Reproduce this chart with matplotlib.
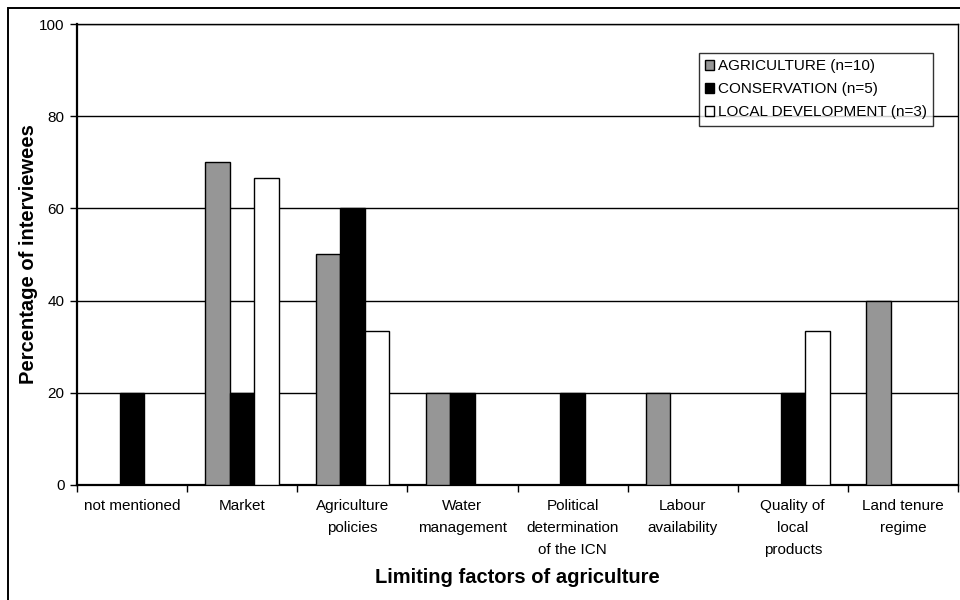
import matplotlib.pyplot as plt
import numpy as np
from matplotlib.patches import Rectangle

plt.rcParams['font.family'] = ['Liberation Sans', 'DejaVu Sans']

factors = ['not mentioned', 'Market', 'Agriculture\npolicies', 'Water\nmanagement',
           'Political\ndetermination\nof the ICN', 'Labour\navailability',
           'Quality of\nlocal\nproducts', 'Land tenure\nregime']
agriculture = [0, 70, 50, 20, 0, 20, 0, 40]
conservation = [20, 20, 60, 20, 20, 0, 20, 0]
local_dev = [0, 66.7, 33.3, 0, 0, 0, 33.3, 0]
series_names = ['AGRICULTURE (n=10)', 'CONSERVATION (n=5)', 'LOCAL DEVELOPMENT (n=3)']
series_colors = ['#969696', '#000000', '#ffffff']

fig = plt.figure(figsize=(9.6, 6), dpi=100)
ax = fig.add_axes([77 / 960, 1 - 485 / 600, 881 / 960, 461 / 600])

# outer chart border
fig.patches.append(Rectangle((8 / 960, -0.05), 1.1, 1 - 8 / 600 + 0.05,
                             transform=fig.transFigure, fill=False,
                             edgecolor='black', linewidth=1.4))

x = np.arange(len(factors))
width = 1 / 4.5
for i, (vals, name, col) in enumerate(zip([agriculture, conservation, local_dev],
                                          series_names, series_colors)):
    ax.bar(x + (i - 1) * width, vals, width, color=col, edgecolor='black',
           linewidth=1.0, label=name, zorder=3)

ax.set_xlim(-0.5, len(factors) - 0.5)
ax.set_ylim(0, 100)
ax.set_yticks([0, 20, 40, 60, 80, 100])
ax.yaxis.grid(True, color='black', linewidth=1.0, zorder=0)
ax.set_axisbelow(True)

ax.set_xticks(x)
ax.set_xticklabels(factors, fontsize=11, linespacing=1.75, va='top')
ax.set_xticks(np.arange(-0.5, len(factors)), minor=True)
ax.tick_params(axis='x', which='major', length=0, pad=10)
ax.tick_params(axis='x', which='minor', length=5, width=1, direction='out')
ax.tick_params(axis='y', length=5, width=1, direction='out', labelsize=11, pad=4)

for side in ['left', 'bottom']:
    ax.spines[side].set_linewidth(1.6)
for side in ['top', 'right']:
    ax.spines[side].set_linewidth(1.0)

ax.set_ylabel('Percentage of interviewees', fontsize=14.5, fontweight='bold')
ax.yaxis.set_label_coords((38 - 77) / 881, 0.5)
ax.set_xlabel('Limiting factors of agriculture', fontsize=14.5, fontweight='bold')
ax.xaxis.set_label_coords(0.5, -(568 - 485) / 461)

leg = ax.legend(loc='upper right', bbox_to_anchor=(933 / 960, 1 - 53 / 600),
                bbox_transform=fig.transFigure, fontsize=11, frameon=True,
                fancybox=False, edgecolor='black', handlelength=0.6,
                handleheight=0.6, handletextpad=0.25, borderpad=0.4,
                labelspacing=0.6, borderaxespad=0)
leg.get_frame().set_linewidth(1.0)

fig.savefig('out.png', dpi=100)
